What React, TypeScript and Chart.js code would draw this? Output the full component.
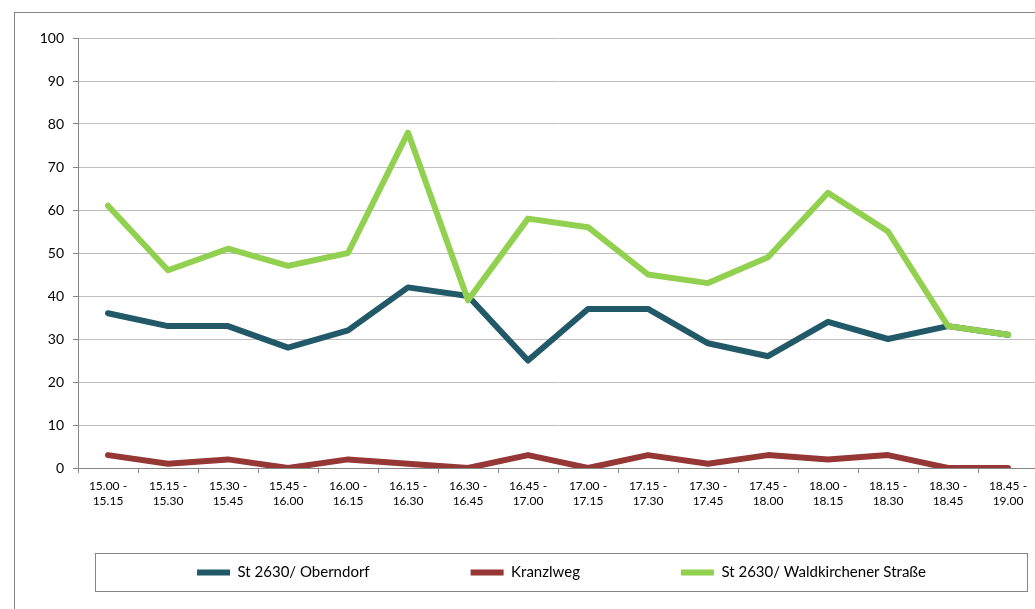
import { useEffect, useRef } from "react";
import { Chart, registerables } from "chart.js";

Chart.register(...registerables);

const categories: string[][] = [
  ["15.00 -", "15.15"],
  ["15.15 -", "15.30"],
  ["15.30 -", "15.45"],
  ["15.45 -", "16.00"],
  ["16.00 -", "16.15"],
  ["16.15 -", "16.30"],
  ["16.30 -", "16.45"],
  ["16.45 -", "17.00"],
  ["17.00 -", "17.15"],
  ["17.15 -", "17.30"],
  ["17.30 -", "17.45"],
  ["17.45 -", "18.00"],
  ["18.00 -", "18.15"],
  ["18.15 -", "18.30"],
  ["18.30 -", "18.45"],
  ["18.45 -", "19.00"],
];

const seriesNames = ["St 2630/ Oberndorf", "Kranzlweg", "St 2630/ Waldkirchener Straße"];
const oberndorf = [36, 33, 33, 28, 32, 42, 40, 25, 37, 37, 29, 26, 34, 30, 33, 31];
const kranzlweg = [3, 1, 2, 0, 2, 1, 0, 3, 0, 3, 1, 3, 2, 3, 0, 0];
const waldkirchener = [61, 46, 51, 47, 50, 78, 39, 58, 56, 45, 43, 49, 64, 55, 33, 31];
const seriesColors = ["#215968", "#953735", "#92D050"];

const yMin = 0;
const yMax = 100;
const yStep = 10;

const decorPlugin = {
  id: "decor",
  afterLayout(chart: any) {
    const lg = chart.legend;
    if (lg) {
      const h = lg.height;
      lg.top = 464;
      lg.bottom = lg.top + h;
      lg.left = 95;
      lg.right = 1028;
      lg.width = lg.right - lg.left;
    }
  },
  beforeDraw(chart: any) {
    const ctx = chart.ctx;
    ctx.save();
    ctx.fillStyle = "#ffffff";
    ctx.fillRect(0, 0, chart.width, chart.height);
    ctx.strokeStyle = "#868686";
    ctx.lineWidth = 1;
    ctx.strokeRect(14.5, 12.5, 3000, 3000);
    ctx.restore();
  },
  afterDraw(chart: any) {
    const ctx = chart.ctx;
    ctx.save();
    ctx.strokeStyle = "#868686";
    ctx.lineWidth = 1;
    ctx.strokeRect(95.5, 553.5, 932, 38);
    ctx.restore();
  },
};

export default function App() {
  const ref = useRef<HTMLCanvasElement | null>(null);

  useEffect(() => {
    if (!ref.current) return;
    const mk = (label: string, data: number[], color: string, order: number) => ({
      label,
      data,
      borderColor: color,
      backgroundColor: color,
      borderWidth: 6,
      borderCapStyle: "round" as const,
      borderJoinStyle: "round" as const,
      pointRadius: 0,
      pointHoverRadius: 0,
      pointStyle: "line" as const,
      tension: 0,
      fill: false,
      order,
    });
    const chart = new Chart(ref.current, {
      type: "line",
      data: {
        labels: categories,
        datasets: [
          mk(seriesNames[0], oberndorf, seriesColors[0], 2),
          mk(seriesNames[1], kranzlweg, seriesColors[1], 3),
          mk(seriesNames[2], waldkirchener, seriesColors[2], 1),
        ],
      },
      options: {
        animation: false,
        responsive: false,
        devicePixelRatio: 1,
        layout: { padding: { left: 14, top: 38, right: 22, bottom: 6 } },
        font: { family: "Lato" } as any,
        plugins: {
          tooltip: { enabled: false },
          title: { display: false },
          legend: {
            display: true,
            position: "bottom",
            labels: {
              usePointStyle: true,
              pointStyleWidth: 33,
              padding: 101,
              color: "#000",
              font: { family: "Lato", size: 15 },
              sort: (a: any, b: any) => a.datasetIndex - b.datasetIndex,
            },
          },
        },
        scales: {
          x: {
            type: "category",
            offset: true,
            grid: {
              offset: true,
              drawOnChartArea: false,
              drawTicks: true,
              tickLength: 5,
              color: "#868686",
            },
            border: { display: true, color: "#868686", width: 1 },
            ticks: {
              autoSkip: false,
              maxRotation: 0,
              minRotation: 0,
              padding: 5,
              color: "#000",
              font: { family: "Lato", size: 12, lineHeight: 1.3 },
            },
            afterFit: (s: any) => {
              s.height = 40;
            },
          },
          y: {
            min: yMin,
            max: yMax,
            grid: {
              color: "#C0C0C0",
              tickColor: "#868686",
              tickLength: 5,
              lineWidth: 1,
            },
            border: { display: true, color: "#868686", width: 1 },
            ticks: {
              stepSize: yStep,
              padding: 9,
              color: "#000",
              font: { family: "Lato", size: 14 },
            },
            afterFit: (s: any) => {
              s.width = 64;
            },
          },
        },
      },
      plugins: [decorPlugin],
    });
    return () => chart.destroy();
  }, []);

  return (
    <div
      style={{
        position: "fixed",
        left: 0,
        top: 0,
        width: 1035,
        height: 609,
        overflow: "hidden",
        background: "#fff",
      }}
    >
      <canvas ref={ref} width={1060} height={640} style={{ display: "block" }} />
    </div>
  );
}
